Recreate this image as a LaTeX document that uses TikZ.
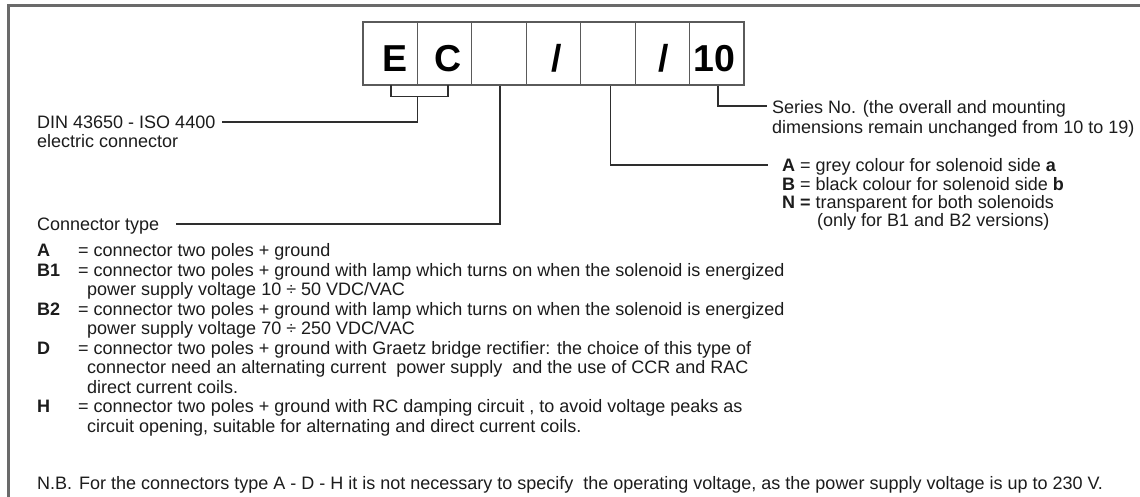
\documentclass[tikz,border=0pt]{standalone}
\usepackage{fontspec}
\setmainfont{Liberation Sans}
\definecolor{framegray}{HTML}{6A6A6A}
\definecolor{cellgray}{HTML}{5A5A5A}
\definecolor{leadgray}{HTML}{2E2E2E}
\definecolor{inkc}{HTML}{1C1C1C}
\begin{document}
\begin{tikzpicture}[x=1pt,y=-1pt,
  frameline/.style={draw=framegray,line width=2.5pt},
  cell/.style={draw=cellgray,line width=1.1pt,minimum width=54.43pt,minimum height=63pt,inner sep=0pt},
  big/.style={anchor=base,inner sep=0pt,text=black,font=\fontsize{37.5}{40}\selectfont\bfseries},
  txt/.style={anchor=base west,inner sep=0pt,text=inkc,font=\fontsize{18}{19.5}\selectfont},
  lbl/.style={txt,font=\fontsize{18}{19.5}\selectfont\bfseries},
  leader/.style={draw=leadgray,line width=1.4pt}]
\useasboundingbox (0,0) rectangle (1140,497);
\fill[white] (0,0) rectangle (1140,497);
% frame
\draw[frameline] (1140,5.3) -- (8.7,5.3) -- (8.7,497);
% code cells
\foreach \i in {1,...,7}{
  \node[cell] (c\i) at ({363+54.43*(\i-0.5)},53.5) {};
}
\node[big] (tE) at (395,71.7) {E};
\node[big] (tC) at (448.5,71.7) {C};
\node[big] (tS1) at (557,71.7) {/};
\node[big] (tS2) at (664,71.7) {/};
\node[big] (t10) at (714,71.7) {10};
% left labels
\node[txt] (din1) at (37,129) {DIN 43650 - ISO 4400};
\node[txt] (din2) at (37,148) {electric connector};
\node[txt] (ctype) at (37,230.7) {Connector type};
% right labels
\node[txt] (ser1) at (772,114) {Series No. (the overall and mounting};
\node[txt] (ser2) at (772,134) {dimensions remain unchanged from 10 to 19)};
\node[txt] (ab1) at (782,171.7) {\textbf{A} = grey colour for solenoid side \textbf{a}};
\node[txt] (ab2) at (782,190) {\textbf{B} = black colour for solenoid side \textbf{b}};
\node[txt] (ab3) at (782,208.3) {\textbf{N =} transparent for both solenoids};
\node[txt] (ab4) at (817,226.7) {(only for B1 and B2 versions)};
% connector type list
\node[lbl] (kA) at (37,256.7) {A};
\node[txt] (lA) at (78,256.7) {= connector two poles + ground};
\node[lbl] (kB1) at (37,276.2) {B1};
\node[txt] (lB1) at (78,276.2) {= connector two poles + ground with lamp which turns on when the solenoid is energized};
\node[txt] (lB1b) at (87,295.7) {power supply voltage 10 ÷ 50 VDC/VAC};
\node[lbl] (kB2) at (37,315.2) {B2};
\node[txt] (lB2) at (78,315.2) {= connector two poles + ground with lamp which turns on when the solenoid is energized};
\node[txt] (lB2b) at (87,334.7) {power supply voltage 70 ÷ 250 VDC/VAC};
\node[lbl] (kD) at (37,354.2) {D};
\node[txt] (lD) at (78,354.2) {= connector two poles + ground with Graetz bridge rectifier: the choice of this type of};
\node[txt] (lDb) at (87,373.7) {connector need an alternating current\ \ power supply\ \ and the use of CCR and RAC};
\node[txt] (lDc) at (87,393.2) {direct current coils.};
\node[lbl] (kH) at (37,412.7) {H};
\node[txt] (lH) at (78,412.7) {= connector two poles + ground with RC damping circuit , to avoid voltage peaks as};
\node[txt] (lHb) at (87,432.2) {circuit opening, suitable for alternating and direct current coils.};
\node[txt] (nb) at (37,489.5) {N.B.\hspace{7pt}For the connectors type A - D - H it is not necessary to specify\ \ the operating voltage, as the power supply voltage is up to 230 V.};
% leader coordinates
\coordinate (bE) at (391,85);
\coordinate (bC) at (448,85);
\coordinate (bM) at (417.5,96.7);
\coordinate (dinEnd) at (222,122);
\coordinate (ctEnd) at (176,224);
\coordinate (abEnd) at (768,165);
\coordinate (serEnd) at (767,106);
% bracket E-C
\draw[leader] (bE) -- (bE |- bM) -- (bC |- bM) -- (bC);
\draw[leader] (bM) |- (dinEnd);
% connector type
\draw[leader] ([xshift=1pt]c3.south) |- (ctEnd);
% colour
\draw[leader] ([xshift=2.5pt]c5.south) |- (abEnd);
% series
\draw[leader] ([xshift=1pt]c7.south) |- (serEnd);
\end{tikzpicture}
\end{document}
